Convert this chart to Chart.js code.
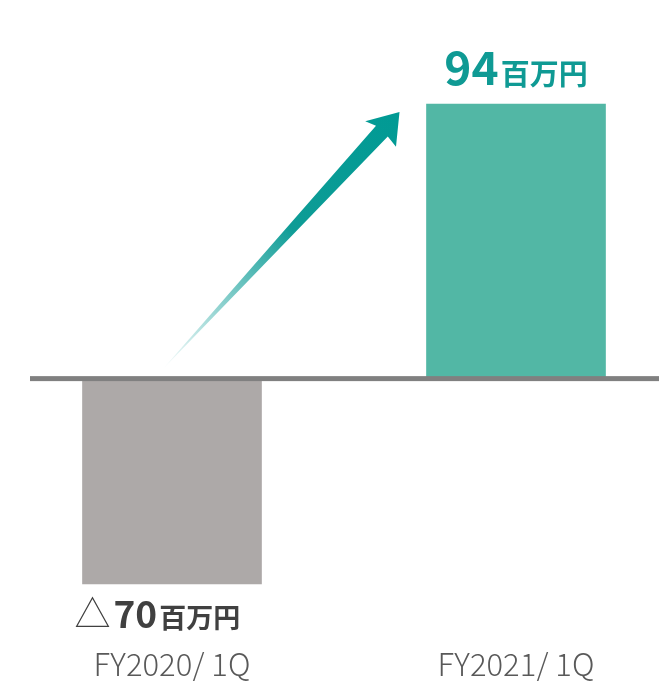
<!DOCTYPE html>
<html>
<head>
<meta charset="utf-8">
<script src="https://cdn.jsdelivr.net/npm/chart.js@4"></script>
<style>
  html, body { margin: 0; padding: 0; background: #fff; }
  canvas { display: block; }
</style>
</head>
<body>
<canvas id="chart" width="667" height="681"></canvas>
<script>
const categories = ["FY2020/ 1Q", "FY2021/ 1Q"];
const profitValues = [-70, 94];
const barColors = ["#ADA9A8", "#52B7A5"];
const unitLabel = "百万円";
const FONT = "'Noto Sans CJK JP', 'Noto Sans', sans-serif";

// zero line, growth arrow and the value labels
const decorations = {
    id: "decorations",
    afterDatasetsDraw(chart) {
        const ctx = chart.ctx;
        const y0 = chart.scales.y.getPixelForValue(0);
        const bars = chart.getDatasetMeta(0).data;

        ctx.save();
        ctx.fillStyle = "#808080";
        ctx.fillRect(30, y0 - 3, chart.width - 38, 5);

        // arrow from first bar up to second bar
        const b1 = bars[0], b2 = bars[1];
        const tx = b1.x - 10, ty = y0 - 9;
        const hx = b2.x - b2.width / 2 - 27, hy = b2.y + 8;
        const ang = Math.atan2(hy - ty, hx - tx);
        const len = Math.hypot(hx - tx, hy - ty);
        ctx.translate(tx, ty);
        ctx.rotate(ang);
        const grad = ctx.createLinearGradient(0, 0, len, 0);
        grad.addColorStop(0, "rgba(0,154,148,0)");
        grad.addColorStop(0.55, "#0E9C96");
        grad.addColorStop(1, "#009A94");
        ctx.fillStyle = grad;
        ctx.beginPath();
        ctx.moveTo(0, 0);
        ctx.lineTo(len - 26, -8);
        ctx.lineTo(len - 30, -19);
        ctx.lineTo(len, 0);
        ctx.lineTo(len - 28, 21);
        ctx.lineTo(len - 26, 8);
        ctx.closePath();
        ctx.fill();
        ctx.setTransform(1, 0, 0, 1, 0, 0);

        // value labels
        profitValues.forEach((v, i) => {
            const bar = bars[i];
            const num = String(Math.abs(v));
            ctx.textBaseline = "alphabetic";
            ctx.textAlign = "left";
            if (v >= 0) {
                ctx.fillStyle = "#0F9A94";
                ctx.font = "bold 46px " + FONT;
                const wNum = ctx.measureText(num).width;
                ctx.font = "bold 29px " + FONT;
                const wUnit = ctx.measureText(unitLabel).width;
                const x = bar.x - (wNum + 2 + wUnit) / 2;
                const y = bar.y - 19;
                ctx.font = "bold 46px " + FONT;
                ctx.fillText(num, x, y);
                ctx.font = "bold 29px " + FONT;
                ctx.fillText(unitLabel, x + wNum + 2, y);
            } else {
                ctx.fillStyle = "#404040";
                let x = bar.x - bar.width / 2 - 8;
                const y = bar.y + 44;
                ctx.font = "300 36px " + FONT;
                ctx.fillText("△", x, y - 1);
                x += ctx.measureText("△").width + 3;
                ctx.font = "bold 37px " + FONT;
                ctx.fillText(num, x, y);
                x += ctx.measureText(num).width + 2;
                ctx.font = "bold 27px " + FONT;
                ctx.fillText(unitLabel, x, y);
            }
        });
        ctx.restore();
    },
};

new Chart(document.getElementById("chart"), {
    type: "bar",
    data: {
        labels: categories,
        datasets: [{
            data: profitValues,
            backgroundColor: barColors,
            barThickness: 179,
            clip: false,
        }],
    },
    options: {
        responsive: false,
        animation: false,
        layout: { padding: { top: 104, left: 172, right: 151, bottom: 0 } },
        plugins: { legend: { display: false }, tooltip: { enabled: false } },
        scales: {
            x: {
                offset: false,
                grid: { display: false, drawTicks: false },
                border: { display: false },
                afterFit(scale) { scale.height = 97; },
                ticks: {
                    padding: 62,
                    maxRotation: 0,
                    color: "#595959",
                    font: { family: FONT, size: 31, weight: 300 },
                },
            },
            y: { display: false, min: -70, max: 94 },
        },
    },
    plugins: [decorations],
});
</script>
</body>
</html>
